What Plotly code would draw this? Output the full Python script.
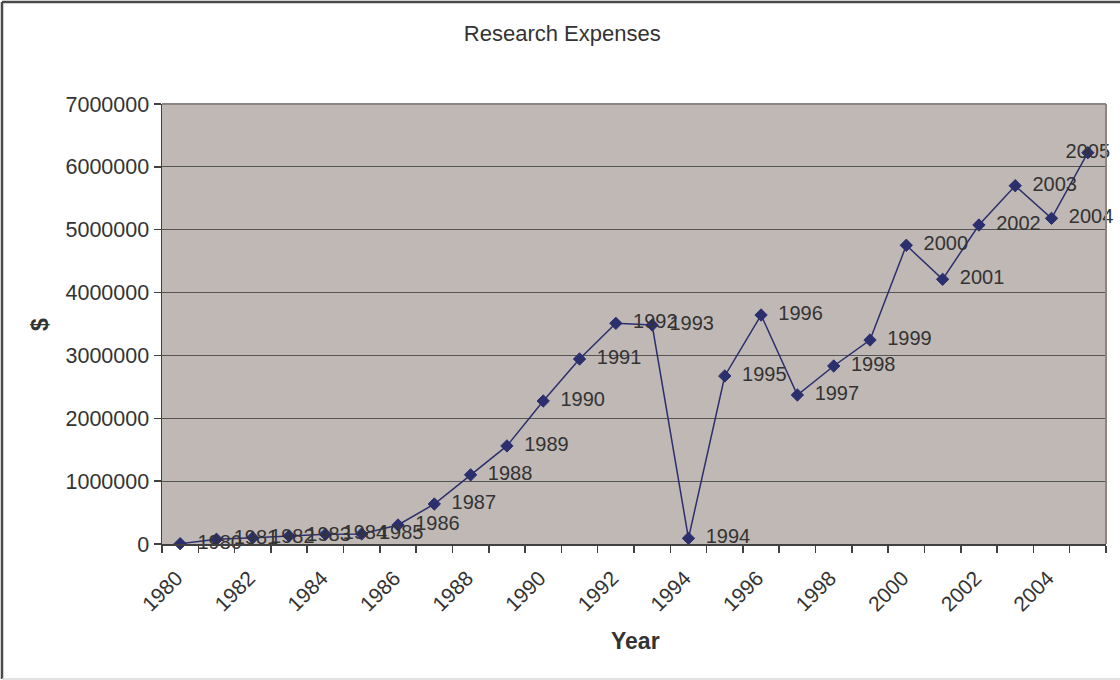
import plotly.graph_objects as go

years = list(range(1980, 2006))
expenses = [5000, 75000, 100000, 127000, 154000, 160000, 302000, 636000,
            1100000, 1560000, 2275000, 2943000, 3511000, 3484000, 90000,
            2673000, 3643000, 2370000, 2832000, 3245000, 4752000, 4211000,
            5075000, 5700000, 5181000, 6225000]
labels = [str(y) for y in years]
x_tick_labels = [str(y) for y in range(1980, 2005, 2)]
y_tick_vals = [0, 1000000, 2000000, 3000000, 4000000, 5000000, 6000000, 7000000]

FONT = "Liberation Sans, Arial, sans-serif"
TXT = "#333333"
NAVY = "#2C2F6E"

label_pos = ["middle right"] * (len(years) - 1) + ["middle center"]

fig = go.Figure()
fig.add_trace(go.Scatter(
    x=years, y=expenses, mode="lines+markers",
    line=dict(color=NAVY, width=1.5),
    marker=dict(symbol="diamond", size=9.5, color=NAVY, line=dict(color=NAVY, width=1)),
    hoverinfo="skip", showlegend=False, cliponaxis=False,
))
fig.add_trace(go.Scatter(
    x=years, y=expenses, mode="markers+text", text=labels,
    textposition=label_pos,
    textfont=dict(family=FONT, size=20, color=TXT),
    marker=dict(size=26, color="rgba(0,0,0,0)"),
    hoverinfo="skip", showlegend=False, cliponaxis=False,
))

fig.update_layout(
    width=1120, height=680,
    margin=dict(l=162, r=14, t=104, b=136),
    paper_bgcolor="white",
    plot_bgcolor="#C0B8B5",
    font=dict(family=FONT, size=21, color=TXT),
    title=dict(text="Research Expenses", x=0.502, xref="container",
               y=1 - 33 / 680, yref="container", xanchor="center", yanchor="middle",
               font=dict(family=FONT, size=22, color=TXT)),
    showlegend=False,
)
fig.update_xaxes(
    range=[1979.5, 2005.5],
    tickmode="array",
    tickvals=[int(t) - 0.1 for t in x_tick_labels],
    ticktext=x_tick_labels,
    tickangle=-45,
    ticks="",
    ticklen=7,
    ticklabelstandoff=12,
    showgrid=False,
    zeroline=False,
    showline=True, linecolor="#404040", linewidth=1.5,
    tickfont=dict(family=FONT, size=21, color=TXT),
    minor=dict(tick0=1979.5, dtick=1, ticks="outside", ticklen=7,
               tickcolor="#404040", tickwidth=1.5, showgrid=False),
)
fig.update_yaxes(
    range=[0, 7000000],
    tickmode="array",
    tickvals=y_tick_vals,
    ticktext=[str(v) for v in y_tick_vals],
    ticks="outside", ticklen=7, tickcolor="#404040", tickwidth=1.5,
    showgrid=True, gridcolor="#555555", gridwidth=1,
    zeroline=False,
    showline=True, linecolor="#404040", linewidth=1.5,
    tickfont=dict(family=FONT, size=21.5, color=TXT),
)

# axis titles
fig.add_annotation(text="<b>$</b>", xref="paper", yref="paper",
                   x=(40 - 162) / 944, y=(544 - 325) / 440, showarrow=False,
                   textangle=-90, font=dict(family=FONT, size=23, color=TXT),
                   xanchor="center", yanchor="middle")
fig.add_annotation(text="<b>Year</b>", xref="paper", yref="paper",
                   x=(635 - 162) / 944, y=(544 - 641) / 440, showarrow=False,
                   font=dict(family=FONT, size=23, color=TXT),
                   xanchor="center", yanchor="middle")

# plot area top/right border
fig.add_shape(type="line", xref="paper", yref="paper", x0=0, x1=1, y0=1, y1=1,
              line=dict(color="#8C8482", width=2))
fig.add_shape(type="line", xref="paper", yref="paper", x0=1, x1=1, y0=0, y1=1,
              line=dict(color="#8C8482", width=2))

# outer chart frame
fig.add_shape(type="line", xref="paper", yref="paper",
              x0=-160 / 944, x1=-160 / 944, y0=(544 - 679) / 440, y1=(544 - 2) / 440,
              line=dict(color="#4A4A4A", width=2.5))
fig.add_shape(type="line", xref="paper", yref="paper",
              x0=-160 / 944, x1=(1120 - 162) / 944, y0=(544 - 2) / 440, y1=(544 - 2) / 440,
              line=dict(color="#4A4A4A", width=2.5))
fig.add_shape(type="line", xref="paper", yref="paper",
              x0=-160 / 944, x1=(1120 - 162) / 944, y0=(544 - 679) / 440, y1=(544 - 679) / 440,
              line=dict(color="#D8D8D8", width=1.5))

fig.write_html("out.html",
               config={"displayModeBar": False, "staticPlot": True},
               post_script="document.body.style.margin='0';document.body.style.overflow='hidden';")
